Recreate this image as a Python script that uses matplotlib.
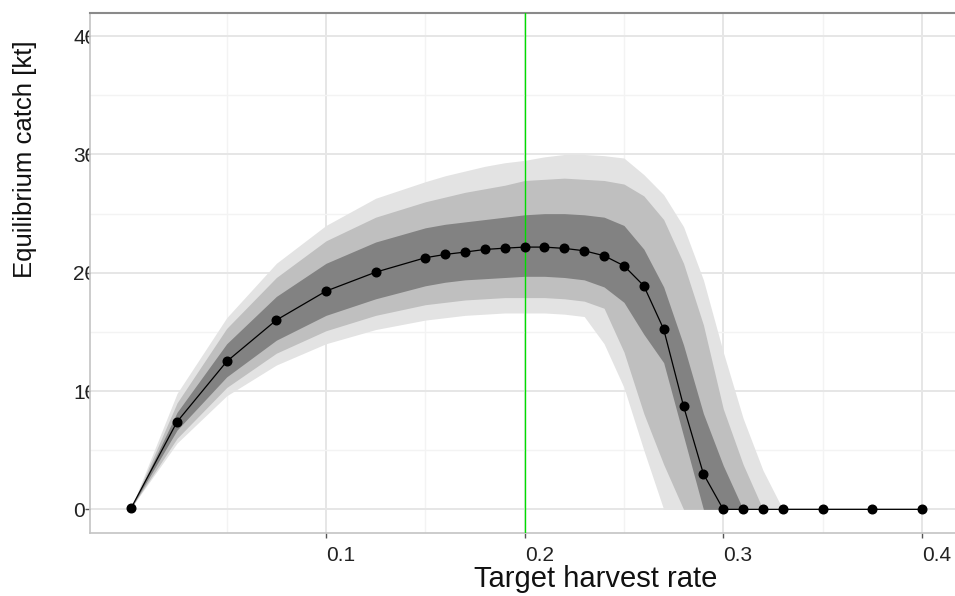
import matplotlib
matplotlib.use("Agg")
import matplotlib.pyplot as plt
from matplotlib.transforms import Bbox, TransformedBbox

plt.rcParams['font.family'] = ['Liberation Sans', 'DejaVu Sans']

# data
harvest_rate = [0.002, 0.025, 0.05, 0.075, 0.1, 0.125, 0.15, 0.16, 0.17, 0.18, 0.19, 0.2,
                0.21, 0.22, 0.23, 0.24, 0.25, 0.26, 0.27, 0.28, 0.29, 0.30, 0.31, 0.32,
                0.33, 0.35, 0.375, 0.4]
catch_median = [0.15, 7.4, 12.5, 16.0, 18.45, 20.05, 21.27, 21.55, 21.75, 21.97, 22.08, 22.17,
                22.17, 22.06, 21.86, 21.44, 20.59, 18.9, 15.23, 8.73, 3.0, 0, 0, 0,
                0, 0, 0, 0]
inner_hi = [0.15, 8.2, 14.0, 18.0, 20.8, 22.6, 23.8, 24.1, 24.3, 24.5, 24.7, 24.9,
            25.0, 25.0, 24.9, 24.7, 24.0, 22.0, 18.8, 13.9, 8.1, 3.7, 0, 0,
            0, 0, 0, 0]
inner_lo = [0.15, 6.7, 11.2, 14.3, 16.4, 17.8, 18.9, 19.2, 19.4, 19.5, 19.6, 19.7,
            19.7, 19.6, 19.4, 18.8, 17.5, 14.8, 12.4, 6.2, 0, 0, 0, 0,
            0, 0, 0, 0]
mid_hi = [0.15, 9.0, 15.3, 19.6, 22.7, 24.7, 26.0, 26.4, 26.8, 27.1, 27.4, 27.8,
          27.9, 28.0, 27.9, 27.8, 27.5, 26.5, 24.5, 20.8, 15.6, 8.5, 3.8, 0,
          0, 0, 0, 0]
mid_lo = [0.15, 6.0, 10.3, 13.2, 15.1, 16.4, 17.3, 17.5, 17.7, 17.8, 17.9, 17.9,
          17.9, 17.8, 17.6, 17.0, 13.3, 8.1, 3.8, 0, 0, 0, 0, 0,
          0, 0, 0, 0]
outer_hi = [0.15, 9.8, 16.2, 20.8, 24.0, 26.3, 27.7, 28.2, 28.6, 29.0, 29.3, 29.5,
            29.8, 30.0, 30.0, 29.9, 29.7, 28.3, 26.6, 23.9, 19.4, 13.3, 7.7, 3.3,
            0, 0, 0, 0]
outer_lo = [0.15, 5.6, 9.6, 12.2, 14.0, 15.2, 16.0, 16.2, 16.4, 16.5, 16.6, 16.6,
            16.6, 16.5, 16.3, 14.0, 10.3, 5.0, 0, 0, 0, 0, 0, 0,
            0, 0, 0, 0]
target_rate = 0.2
x_ticks = [0.1, 0.2, 0.3, 0.4]
x_minor = [0.05, 0.15, 0.25, 0.35]
y_ticks = [0, 10, 20, 30, 40]
y_minor = [5, 15, 25, 35]

W, H = 955, 596
fig = plt.figure(figsize=(W / 100, H / 100), dpi=100)
L, R, T, B = 90, 961, 13, 533
ax = fig.add_axes([L / W, (H - B) / H, (R - L) / W, (B - T) / H])
ax.set_xlim(-0.01883, 0.4197)
ax.set_ylim(-2.0, 41.96)

ax.fill_between(harvest_rate, outer_lo, outer_hi, color='#e3e3e3', lw=0, zorder=2)
ax.fill_between(harvest_rate, mid_lo, mid_hi, color='#bfbfbf', lw=0, zorder=3)
ax.fill_between(harvest_rate, inner_lo, inner_hi, color='#828282', lw=0, zorder=4)
ax.plot(harvest_rate, catch_median, color='black', lw=0.9, marker='o', ms=6.2,
        zorder=6, clip_on=False)
ax.axvline(target_rate, color='#00dd00', lw=1.0, zorder=5)

ax.set_xticks(x_ticks)
ax.set_xticks(x_minor, minor=True)
ax.set_yticks(y_ticks)
ax.set_yticks(y_minor, minor=True)
ax.set_xticklabels([f"{v:.1f}" for v in x_ticks])
ax.set_yticklabels([str(v) for v in y_ticks])
ax.grid(which='major', color='#e6e6e6', lw=1.4, zorder=0)
ax.grid(which='minor', color='#f3f3f3', lw=1.0, zorder=0)
ax.set_axisbelow(True)

ax.tick_params(which='major', length=3.6, width=1.0, color='#555555', labelsize=15,
               labelcolor='#222222')
ax.tick_params(which='minor', length=0)
ax.tick_params(axis='x', pad=6)
ax.tick_params(axis='y', pad=8.6)
for lab in ax.get_xticklabels():
    lab.set_ha('left')
clip = TransformedBbox(Bbox([[0, 0], [L / W, 1]]), fig.transFigure)
for lab in ax.get_yticklabels():
    lab.set_ha('left')
    lab.set_clip_box(clip)
    lab.set_clip_on(True)

for side in ['left', 'bottom']:
    ax.spines[side].set_color('#c4c4c4')
    ax.spines[side].set_linewidth(1.2)
ax.spines['top'].set_color('#8a8a8a')
ax.spines['top'].set_linewidth(1.5)
ax.spines['right'].set_visible(False)

fig.text(596 / W, 1 - 579 / H, 'Target harvest rate', ha='center', va='center',
         fontsize=21, color='#111111')
fig.text(25 / W, 1 - 159 / H, 'Equilibrium catch [kt]', ha='center', va='center',
         rotation=90, fontsize=18.5, color='#111111')

fig.savefig('out.png', dpi=100)
